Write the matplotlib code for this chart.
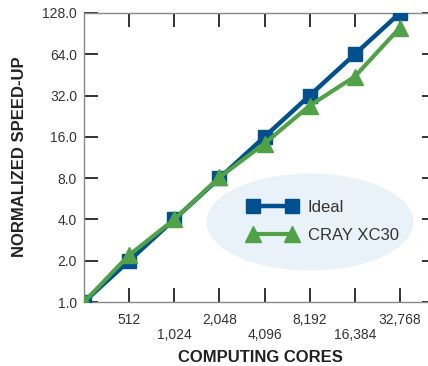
import numpy as np
from matplotlib import pyplot as plt
from matplotlib.patches import Ellipse

plt.rcParams['font.family'] = ['Liberation Sans', 'DejaVu Sans']

# data
cores = [256, 512, 1024, 2048, 4096, 8192, 16384, 32768]
ideal = [1, 2, 4, 8, 16, 32, 64, 128]
cray = [1.0, 2.2, 4.0, 8.1, 14.3, 27, 44, 100]

x_ticks = [512, 1024, 2048, 4096, 8192, 16384, 32768]
x_labels = ["512", "\n1,024", "2,048", "\n4,096", "8,192", "\n16,384", "32,768"]
y_ticks = [1, 2, 4, 8, 16, 32, 64, 128]

blue = "#00508f"
green = "#4fa346"

fig = plt.figure(figsize=(4.28, 3.66), dpi=100)
ax = fig.add_axes([84/428, 1 - 302/366, 352/428, 289/366])

ax.plot(cores, ideal, color=blue, lw=3.2, marker="s", ms=10, label="Ideal", zorder=3)
ax.plot(cores, cray, color=green, lw=3.0, marker="^", ms=11, label="CRAY XC30", zorder=4)

ax.set_xscale("log", base=2)
ax.set_yscale("log", base=2)
ax.set_xlim(256, 2 ** 15.8)
ax.set_ylim(1, 128)

ax.set_xticks(x_ticks)
ax.set_xticklabels(x_labels, linespacing=1.05)
ax.set_yticks(y_ticks)
ax.set_yticklabels([f"{v:.1f}" for v in y_ticks])
ax.minorticks_off()

ax.tick_params(axis="both", direction="in", length=10, width=1.3, color="#222222",
               labelsize=10, labelcolor="#333333")
ax.tick_params(axis="x", top=True, pad=8)
ax.tick_params(axis="y", right=True, pad=5)
for s in ax.spines.values():
    s.set_color("#888888")
    s.set_linewidth(1.0)

# legend background
ell = Ellipse((310/428, 1 - 222/366), 207/428, 97/366, transform=fig.transFigure,
              facecolor="#eaf2f9", edgecolor="none", zorder=0)
ax.add_patch(ell)

leg = ax.legend(loc="center left", bbox_to_anchor=(240/428, 1 - 221.5/366),
                bbox_transform=fig.transFigure, frameon=False, numpoints=2,
                fontsize=12, handlelength=2.9, handletextpad=0.65,
                labelspacing=0.8, borderpad=0)
for t in leg.get_texts():
    t.set_color("#333333")

fig.text(260/428, 1 - 357/366, "COMPUTING CORES", ha="center", va="center",
         fontsize=12, fontweight="bold", color="#222222")
fig.text(20/428, 1 - 157/366, "NORMALIZED SPEED-UP", ha="center", va="center",
         rotation=90, fontsize=12, fontweight="bold", color="#222222")

plt.savefig("out.png", dpi=100)
